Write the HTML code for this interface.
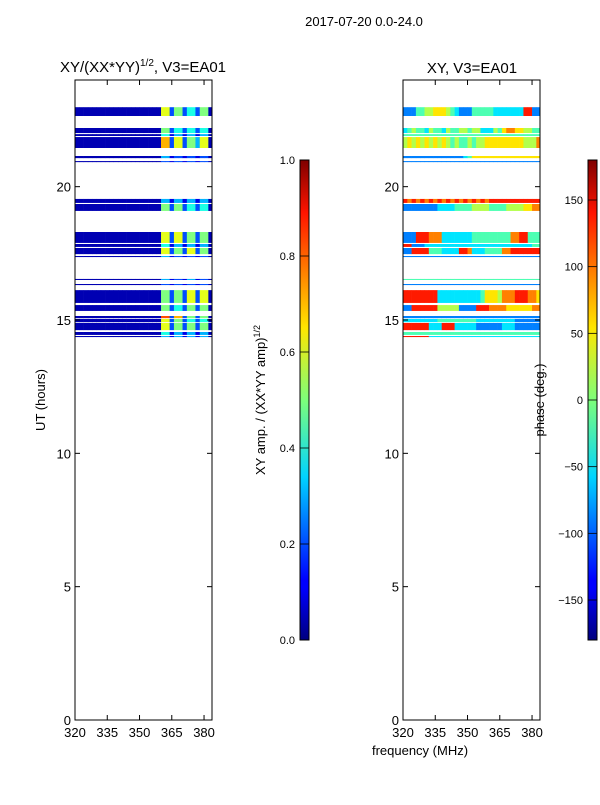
<!DOCTYPE html>
<html><head><meta charset="utf-8"><style>
body{margin:0;background:#fff;}
svg text{font-family:"Liberation Sans","DejaVu Sans",sans-serif;fill:#000;}
</style></head><body>
<svg id="c" width="600" height="800" xmlns="http://www.w3.org/2000/svg">
<rect width="600" height="800" fill="#fff"/>
<text x="364" y="26" font-size="13" text-anchor="middle">2017-07-20 0.0-24.0</text>
<text x="143" y="72" font-size="15" text-anchor="middle">XY/(XX*YY)<tspan font-size="10" dy="-6">1/2</tspan><tspan dy="6">, V3=EA01</tspan></text>
<text x="472" y="73" font-size="15" text-anchor="middle">XY, V3=EA01</text>
<text transform="translate(45,400) rotate(-90)" font-size="13" text-anchor="middle">UT (hours)</text>
<text transform="translate(265,400) rotate(-90)" font-size="13" text-anchor="middle">XY amp. / (XX*YY amp)<tspan font-size="9" dy="-5">1/2</tspan></text>
<text transform="translate(544,400) rotate(-90)" font-size="13" text-anchor="middle">phase (deg.)</text>
<text x="420" y="755" font-size="13" text-anchor="middle">frequency (MHz)</text>
<defs>
<linearGradient id="jet" x1="0" y1="1" x2="0" y2="0">
<stop offset="0" stop-color="#00007f"/><stop offset="0.11" stop-color="#0000ff"/><stop offset="0.125" stop-color="#0000ff"/>
<stop offset="0.34" stop-color="#00d4ff"/><stop offset="0.5" stop-color="#7dff7a"/><stop offset="0.65" stop-color="#ffe600"/>
<stop offset="0.89" stop-color="#ff1400"/><stop offset="1" stop-color="#7f0000"/></linearGradient>
</defs>
<g id="left"></g>
<g id="right"></g>
<g id="axes"></g>
</svg>
<script>
const bandStart=[22.98,22.20,21.97,21.86,21.15,20.96,19.54,19.35,18.30,17.85,17.70,17.40,16.54,16.35,16.12,15.56,15.15,15.04,14.89,14.55,14.40];
const bandEnd=[22.65,22.01,21.90,21.45,21.07,20.92,19.39,19.09,17.89,17.74,17.47,17.36,16.50,16.31,15.64,15.34,15.07,14.92,14.62,14.44,14.36];
const ampRows=[
"00000000000000000000662552442550",
"00000000000000000000552442442440",
"00000000000000000000441331331330",
"00000000000000000000772662553660",
"00000000000000000000331221221220",
"00000000000000000000221221221220",
"00000000000000000000331331331330",
"00000000000000000000552552442440",
"00000000000000000000662662552550",
"00000000000000000000441331331330",
"00000000000000000000662552662550",
"00000000000000000000331221221220",
"00000000000000000000331221331220",
"00000000000000000000221221221220",
"00000000000000000000552552662660",
"00000000000000000000552442552550",
"00000000000000000000882772552550",
"00000000000000000000662552442440",
"00000000000000000000662552552550",
"00000000000000000000441331331330",
"00000000000000000000331331331330"];
const phaseRows=[
"22244556665432224444433333338822",
"34544354435445545533354677665544",
"44444444444444444444444444444444",
"56565656565454454556666666665557",
"22222222222222346666666666666666",
"22222222222222222222222222222222",
"87878787878787878787888888888888",
"22222222333344445555444455556677",
"22288877733333334444444447788444",
"88222333333333333333333333333344",
"22888844433338873334444778888888",
"22222222222222222222222222222222",
"44444444444444444444444444444444",
"22222222222222222222222222222222",
"88888888333333333346665777888776",
"22888888555552222888777766666677",
"22222222222222222222222222222222",
"33333333444444444333333333222222",
"88888833388833333222222333222222",
"44444444444444444444444444444444",
"88888833333333333333333333333333"];
const yTicks=[0,5,10,15,20];
const xTicks=[320,335,350,365,380];
const ampTicks=[0.0,0.2,0.4,0.6,0.8,1.0];
const phaseTicks=[-150,-100,-50,0,50,100,150];
const NS="http://www.w3.org/2000/svg";
const F0=320,F1=383.7,BW=2;
function yUT(u){return 720-u*(640/24);}
function jet(v){v=Math.max(0,Math.min(1,v));
 const c=x=>Math.round(255*Math.max(0,Math.min(1,x)));
 const r=c(1.5-Math.abs(4*v-3)),g=c(1.5-Math.abs(4*v-2)),b=c(1.5-Math.abs(4*v-1));
 return `rgb(${r},${g},${b})`;}
function el(tag,a,p){const e=document.createElementNS(NS,tag);for(const k in a)e.setAttribute(k,a[k]);p.appendChild(e);return e;}
function drawPanel(x0,g,rows,toV,name){
 const xs=f=>x0+(f-F0)*(137/(F1-F0));
 rows.forEach((row,i)=>{
  const y1=yUT(bandStart[i]),y2=yUT(bandEnd[i]);
  for(let j=0;j<row.length;j++){
   const fa=F0+j*BW,fb=Math.min(F1,fa+BW);
   const r=el('rect',{x:xs(fa),y:y1,width:xs(fb)-xs(fa)+0.3,height:Math.max(1,y2-y1),fill:jet(toV(+row[j]))},g);
   
   
  }
 });
 const ax=document.getElementById('axes');
 const fr=el('rect',{x:x0,y:80,width:137,height:640,fill:'none',stroke:'#000','stroke-width':1},ax);
 
 
 yTicks.forEach(t=>{const y=yUT(t);
  el('line',{x1:x0,x2:x0+5,y1:y,y2:y,stroke:'#000'},ax);
  el('line',{x1:x0+137,x2:x0+132,y1:y,y2:y,stroke:'#000'},ax);
  const tx=el('text',{x:x0-4,y:y+5,'font-size':13,'text-anchor':'end'},ax);tx.textContent=t;
  
  
 });
 xTicks.forEach(t=>{const x=xs(t);
  el('line',{x1:x,x2:x,y1:720,y2:715,stroke:'#000'},ax);
  el('line',{x1:x,x2:x,y1:80,y2:85,stroke:'#000'},ax);
  const tx=el('text',{x:x,y:737,'font-size':13,'text-anchor':'middle'},ax);tx.textContent=t;
  
  
 });
}
drawPanel(75,document.getElementById('left'),ampRows,d=>d===0?0.05:d/10,'amp');
drawPanel(403,document.getElementById('right'),phaseRows,d=>(d+0.5)/10,'phase');
function colorbar(x,ticks,toY,name){
 const ax=document.getElementById('axes');
 const r=el('rect',{x:x,y:160,width:9,height:480,fill:'url(#jet)',stroke:'#000','stroke-width':1},ax);
 
 
 ticks.forEach(t=>{const y=toY(t);
  el('line',{x1:x,x2:x+9,y1:y,y2:y,stroke:'#000','stroke-width':0.8},ax);
  const tx=el('text',{x:x-5,y:y+4,'font-size':11,'text-anchor':'end'},ax);
  tx.textContent=(name==='amp-colorbar')?t.toFixed(1):String(t).replace('-','\u2212');
  
  
 });
}
colorbar(300,ampTicks,v=>640-480*v,'amp-colorbar');
colorbar(588,phaseTicks,v=>400-v*(480/360),'phase-colorbar');
</script>
</body></html>
